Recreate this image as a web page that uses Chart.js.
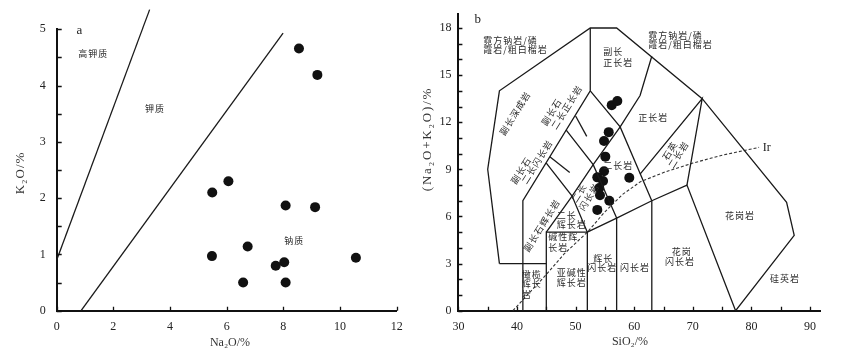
<!DOCTYPE html>
<html>
<head>
<meta charset="utf-8">
<script src="https://cdn.jsdelivr.net/npm/chart.js@4.4.0/dist/chart.umd.min.js"></script>
<style>
  html, body { margin: 0; padding: 0; background: #fff; }
  #wrap { position: relative; width: 843px; height: 360px; }
  canvas { position: absolute; top: 0; }
</style>
</head>
<body>
<div id="wrap">
  <canvas id="chartA" width="420" height="360" style="left:0"></canvas>
  <canvas id="chartB" width="423" height="360" style="left:420px"></canvas>
</div>
<script>
// ---- 图a: Na2O - K2O ----
const na2o = [8.55, 9.20, 6.06, 5.49, 8.08, 9.12, 6.74, 5.48, 8.03, 7.73, 10.56, 6.58, 8.08];
const k2o  = [4.66, 4.19, 2.30, 2.10, 1.87, 1.84, 1.14, 0.97, 0.86, 0.80, 0.94, 0.50, 0.50];
const lineHighK = [[0, 0.9], [3.28, 5.35]];     // 高钾质 / 钾质
const lineNa    = [[0.86, 0], [7.99, 4.93]];    // 钾质 / 钠质
const ticksA_x = [0, 2, 4, 6, 8, 10, 12];
const ticksA_y = [0, 1, 2, 3, 4, 5];

// ---- 图b: TAS (SiO2 - Na2O+K2O) ----
const sio2 = [56.16, 57.12, 55.65, 54.85, 55.07, 54.85, 53.70, 59.16, 54.68, 54.04, 54.16, 55.75, 53.70];
const alk  = [13.09, 13.35, 11.37, 10.81, 9.81, 8.88, 8.49, 8.47, 8.26, 7.81, 7.35, 7.00, 6.42];
const ticksB_x = [30, 40, 50, 60, 70, 80, 90];
const ticksB_y = [0, 3, 6, 9, 12, 15, 18];

const tasLines = [
  [[37, 3], [35, 9], [37, 14], [52.5, 18], [57, 18], [71.6, 13.5], [86, 6.9], [87.3, 4.8], [77.3, 0]],
  [[37, 3], [45, 3]],
  [[41, 0], [41, 7], [52.5, 14], [52.5, 18]],
  [[45, 0], [45, 5], [52, 5], [52, 0]],
  [[45, 5], [49.4, 7.3], [53, 9.3], [57.6, 11.7], [61, 13.7], [63, 16.2]],
  [[52, 5], [57, 5.9], [63, 7], [69, 8], [77.3, 0]],
  [[57, 0], [57, 5.9]],
  [[63, 0], [63, 7]],
  [[45, 9.4], [49.4, 7.3], [52, 5]],
  [[48.4, 11.5], [53, 9.3], [57, 5.9]],
  [[52.5, 14], [57.6, 11.7], [63, 7]],
  [[61, 8.7], [71.6, 13.5], [69, 8]],
  [[50.0, 12.4], [51.9, 11.1]],
  [[45.6, 9.8], [49.0, 8.8]]
];
// Irvine 碱性/亚碱性分界
const irLine = [[39.3, 0], [42, 1.1], [45, 2.3], [48, 3.6], [52, 5.0], [55, 6.3], [58, 7.4],
                [61, 8.2], [65, 8.8], [70, 9.4], [75, 9.9], [81.3, 10.4]];

const serif = 'Liberation Serif';
const cjk = 'Noto Sans CJK SC';

const toXY = arr => arr.map(p => ({ x: p[0], y: p[1] }));
const pts = (xs, ys) => xs.map((v, i) => ({ x: v, y: ys[i] }));

function lineSet(arr, extra) {
  return Object.assign({
    data: toXY(arr), showLine: true, pointRadius: 0, borderColor: '#1a1a1a',
    borderWidth: 1.3, fill: false, tension: 0
  }, extra || {});
}
function dotSet(data) {
  return { data: data, pointRadius: 5, pointHoverRadius: 5, backgroundColor: '#111', borderWidth: 0 };
}

// 内向刻度 + 文字注记
const marks = {
  id: 'marks',
  afterDraw(chart, args, o) {
    const ctx = chart.ctx, xs = chart.scales.x, ys = chart.scales.y, a = chart.chartArea;
    ctx.save();
    ctx.strokeStyle = '#111';
    ctx.lineWidth = 1.3;
    ctx.beginPath();
    for (let v = o.xFrom; v <= o.xTo + 1e-6; v += o.xStep) {
      const p = Math.round(xs.getPixelForValue(v)) + 0.5;
      ctx.moveTo(p, a.bottom); ctx.lineTo(p, a.bottom - o.tick);
    }
    for (let v = o.yFrom; v <= o.yTo + 1e-6; v += o.yStep) {
      const p = Math.round(ys.getPixelForValue(v)) + 0.5;
      ctx.moveTo(a.left, p); ctx.lineTo(a.left + o.tickY, p);
    }
    ctx.stroke();

    ctx.textBaseline = 'middle';
    o.labels.forEach(l => {
      ctx.save();
      ctx.translate(xs.getPixelForValue(l.x), ys.getPixelForValue(l.y));
      if (l.rot) ctx.rotate(l.rot * Math.PI / 180);
      ctx.font = l.font || ('9px "' + cjk + '"');
      ctx.letterSpacing = l.sp != null ? l.sp : '1px';
      ctx.textAlign = l.align || 'center';
      ctx.fillStyle = l.color || '#2a2a2a';
      ctx.fillText(l.t, 0, 0);
      ctx.restore();
    });

    ctx.fillStyle = '#333';
    ctx.textAlign = 'center';
    o.titles.forEach(t => {
      ctx.save();
      ctx.translate(t.px, t.py);
      if (t.rot) ctx.rotate(t.rot * Math.PI / 180);
      ctx.font = (t.size || 12) + 'px "' + serif + '"';
      ctx.letterSpacing = t.sp || '0px';
      ctx.fillText(t.t, 0, 0);
      ctx.restore();
    });
    ctx.restore();
  }
};

function axis(min, max, step, keep, pad, fit) {
  return {
    type: 'linear', min: min, max: max,
    grid: { display: false, drawTicks: false },
    border: { display: true, color: '#111', width: 2 },
    ticks: {
      stepSize: step, includeBounds: false, padding: pad, color: '#222',
      font: { family: serif, size: 12 },
      callback: v => keep.includes(v) ? String(v) : ''
    },
    afterFit: fit
  };
}

new Chart(document.getElementById('chartA'), {
  type: 'scatter',
  data: {
    datasets: [
      lineSet(lineHighK, { clip: false }),
      lineSet(lineNa),
      dotSet(pts(na2o, k2o))
    ]
  },
  options: {
    responsive: false, animation: false,
    layout: { padding: { top: 29.3, right: 23.3, left: 0, bottom: 0 } },
    scales: {
      x: axis(0, 12, 2, ticksA_x, 9, s => { s.height = 49.3; }),
      y: axis(0, 5, 1, ticksA_y, 11, s => { s.width = 56.7; })
    },
    plugins: {
      legend: { display: false },
      tooltip: { enabled: false },
      marks: {
        xFrom: 0, xTo: 12, xStep: 2, yFrom: 0, yTo: 5, yStep: 0.5, tick: 4, tickY: 5,
        labels: [
          { t: 'a', x: 0.80, y: 4.97, font: '13px "' + serif + '"', sp: '0px', color: '#222' },
          { t: '高钾质', x: 1.29, y: 4.57 },
          { t: '钾质', x: 3.47, y: 3.59 },
          { t: '钠质', x: 8.38, y: 1.24 }
        ],
        titles: [
          { t: 'Na₂O/%', px: 230, py: 343.3 },
          { t: 'K₂O/%', px: 21, py: 173, rot: -90, size: 13, sp: '1px' }
        ]
      }
    }
  },
  plugins: [marks]
});

const tasSets = tasLines.map(l => lineSet(l));
tasSets.push(lineSet(irLine, { borderDash: [3, 2], borderWidth: 1.1, borderColor: '#333' }));
tasSets.push(dotSet(pts(sio2, alk)));

new Chart(document.getElementById('chartB'), {
  type: 'scatter',
  data: { datasets: tasSets },
  options: {
    responsive: false, animation: false,
    layout: { padding: { top: 6.7, right: 23, left: 0, bottom: 0 } },
    scales: {
      x: axis(30, 91.7, 10, ticksB_x, 9, s => { s.height = 49.3; }),
      y: axis(0, 18.88, 3, ticksB_y, 7, s => { s.width = 38.4; })
    },
    plugins: {
      legend: { display: false },
      tooltip: { enabled: false },
      marks: {
        xFrom: 30, xTo: 90, xStep: 5, yFrom: 0, yTo: 18, yStep: 1, tick: 4, tickY: 4,
        labels: [
          { t: 'b', x: 33.29, y: 18.51, font: '13px "' + serif + '"', sp: '0px', color: '#222' },
          { t: '霓方钠岩/磷', x: 34.25, y: 17.23, align: 'left' },
          { t: '霞岩/粗白榴岩', x: 34.25, y: 16.61, align: 'left' },
          { t: '霓方钠岩/磷', x: 62.41, y: 17.54, align: 'left' },
          { t: '霞岩/粗白榴岩', x: 62.41, y: 16.92, align: 'left' },
          { t: '副长', x: 54.73, y: 16.50, align: 'left' },
          { t: '正长岩', x: 54.73, y: 15.82, align: 'left' },
          { t: '副长深成岩', x: 39.66, y: 12.57, rot: -58 },
          { t: '副长石', x: 45.89, y: 12.65, rot: -58 },
          { t: '二长正长岩', x: 48.48, y: 12.96, rot: -58 },
          { t: '副长石', x: 40.68, y: 8.93, rot: -58 },
          { t: '二长闪长岩', x: 43.41, y: 9.48, rot: -58 },
          { t: '正长岩', x: 63.26, y: 12.30 },
          { t: '二长岩', x: 57.29, y: 9.22 },
          { t: '石英', x: 66.1, y: 10.19, rot: -58 },
          { t: '二长岩', x: 67.53, y: 9.94, rot: -58 },
          { t: '二长', x: 50.58, y: 7.50, rot: -58 },
          { t: '闪长岩', x: 52.29, y: 7.25, rot: -58 },
          { t: '副长石辉长岩', x: 44.22, y: 5.43, rot: -58 },
          { t: '二长', x: 48.48, y: 6.05 },
          { t: '辉长岩', x: 49.33, y: 5.50 },
          { t: '碱性辉', x: 45.34, y: 4.73, align: 'left' },
          { t: '长岩', x: 45.34, y: 4.02, align: 'left' },
          { t: '辉长', x: 54.73, y: 3.35 },
          { t: '闪长岩', x: 54.56, y: 2.73 },
          { t: '闪长岩', x: 60.14, y: 2.73 },
          { t: '亚碱性', x: 49.33, y: 2.42 },
          { t: '辉长岩', x: 49.33, y: 1.77 },
          { t: '橄榄', x: 40.8, y: 2.32, align: 'left' },
          { t: '辉长', x: 40.8, y: 1.70, align: 'left' },
          { t: '岩', x: 40.8, y: 1.04, align: 'left' },
          { t: '花岗岩', x: 78.05, y: 6.05 },
          { t: '花岗', x: 68.1, y: 3.77 },
          { t: '闪长岩', x: 67.82, y: 3.11 },
          { t: '硅英岩', x: 85.73, y: 2.07 },
          { t: 'Ir', x: 82.61, y: 10.35, font: '12px "' + serif + '"', sp: '0px', color: '#222' }
        ],
        titles: [
          { t: 'SiO₂/%', px: 210, py: 341.7 },
          { t: '(Na₂O+K₂O)/%', px: 7.3, py: 139, rot: -90, size: 13, sp: '1.8px' }
        ]
      }
    }
  },
  plugins: [marks]
});
</script>
</body>
</html>
